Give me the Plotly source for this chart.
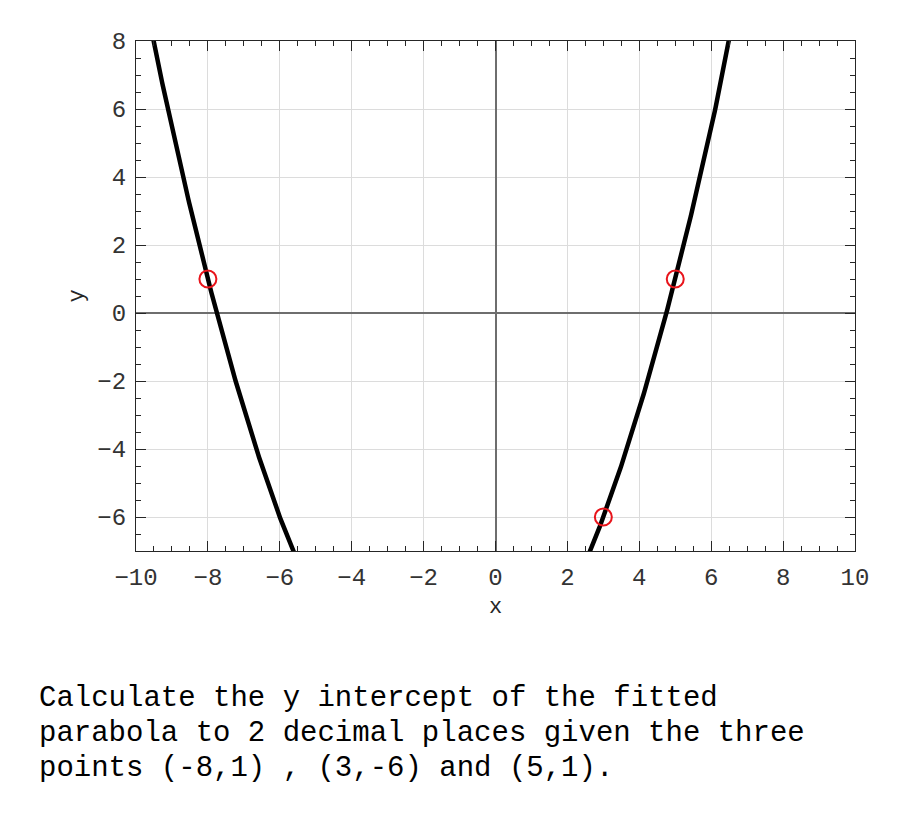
import numpy as np
import plotly.graph_objects as go

# the three given points
pts_x = [-8, 3, 5]
pts_y = [1, -6, 1]

x_ticks = [-10, -8, -6, -4, -2, 0, 2, 4, 6, 8, 10]
y_ticks = [-6, -4, -2, 0, 2, 4, 6, 8]

question = ["Calculate the y intercept of the fitted",
            "parabola to 2 decimal places given the three",
            "points (-8,1) , (3,-6) and (5,1)."]

# fitted parabola through the points
coef = np.polyfit(pts_x, pts_y, 2)
xs = np.linspace(-10, 10, 801)
ys = np.polyval(coef, xs)

fig = go.Figure()
fig.add_trace(go.Scatter(x=xs, y=ys, mode='lines',
                         line=dict(color='black', width=4.5), hoverinfo='skip'))
fig.add_trace(go.Scatter(x=pts_x, y=pts_y, mode='markers',
                         marker=dict(symbol='circle-open', size=17,
                                     color='#e8141b', line=dict(width=2))))

axis_common = dict(
    showgrid=True, gridcolor='#dcdcdc', gridwidth=1,
    zeroline=True, zerolinecolor='#6e6e6e', zerolinewidth=1.5,
    showline=True, linecolor='#262626', linewidth=1.3, mirror='ticks',
    ticks='inside', ticklen=10, tickcolor='#262626', tickwidth=1,
    minor=dict(ticks='inside', ticklen=5, dtick=0.5, tickcolor='#262626', showgrid=False),
    tickfont=dict(family='Liberation Mono', size=24, color='#333333'),
    ticklabelstandoff=4,
)

fig.update_xaxes(range=[-10, 10], tickvals=x_ticks, **axis_common,
                 title=dict(text='x', font=dict(family='Liberation Mono', size=22, color='#262626'),
                            standoff=6))
fig.update_yaxes(range=[-7, 8], tickvals=y_ticks, **axis_common,
                 title=dict(text='y', font=dict(family='Liberation Mono', size=22, color='#262626'),
                            standoff=7))

# question text, one annotation per line for tighter line spacing
for i, line in enumerate(question):
    fig.add_annotation(text=line, xref='paper', yref='paper',
                       x=-0.137, y=-0.2896 - i * 0.0686,
                       xanchor='left', yanchor='middle', align='left', showarrow=False,
                       font=dict(family='Liberation Mono', size=29, color='black'))

fig.update_layout(width=900, height=825, showlegend=False,
                  plot_bgcolor='white', paper_bgcolor='white',
                  margin=dict(l=128, r=53, t=33, b=282))

fig.write_html("out.html")
